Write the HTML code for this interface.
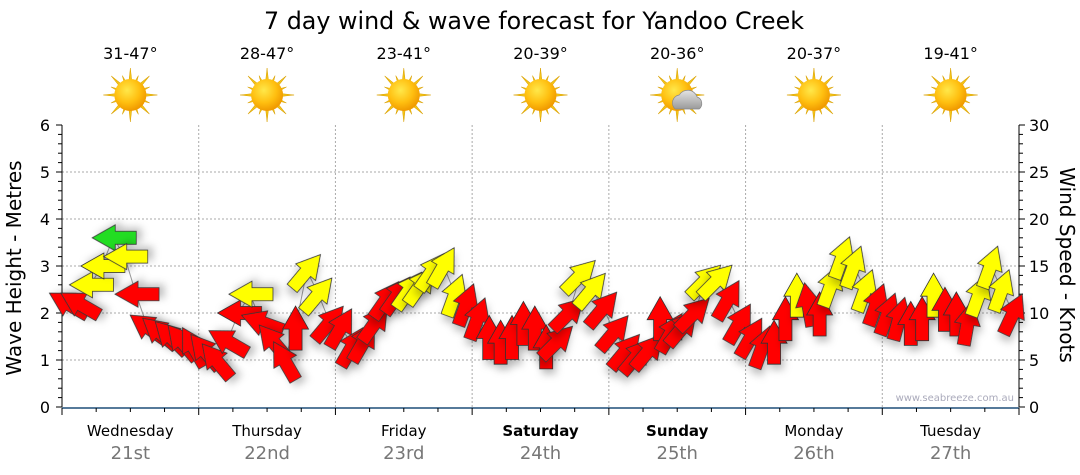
<!DOCTYPE html>
<html><head><meta charset="utf-8"><style>
body{margin:0;background:#fff}
svg{display:block;font-family:"DejaVu Sans","Liberation Sans",sans-serif}
</style></head><body>
<svg id="chart" width="1080" height="475" viewBox="0 0 1080 475" xmlns="http://www.w3.org/2000/svg">
<defs>
<filter id="sh" x="-50%" y="-50%" width="200%" height="200%"><feDropShadow dx="3" dy="5" stdDeviation="4" flood-color="#000" flood-opacity="0.25"/></filter>
<radialGradient id="sunG" cx="40%" cy="35%" r="65%"><stop offset="0" stop-color="#ffe84a"/><stop offset="0.6" stop-color="#ffbf10"/><stop offset="1" stop-color="#f09a00"/></radialGradient>
<linearGradient id="cloudG" x1="0" y1="0" x2="0" y2="1"><stop offset="0" stop-color="#e4e4e4"/><stop offset="1" stop-color="#9a9a9a"/></linearGradient>
</defs>
<text x="534" y="29" text-anchor="middle" font-size="24" textLength="540" lengthAdjust="spacingAndGlyphs">7 day wind &amp; wave forecast for Yandoo Creek</text>
<g id="grid"></g><g id="axes"></g><g id="icons"></g><g id="marks"></g>
<text transform="translate(21,268) rotate(-90)" text-anchor="middle" font-size="20">Wave Height - Metres</text>
<text transform="translate(1060,265) rotate(90)" text-anchor="middle" font-size="20">Wind Speed - Knots</text>
<text x="1014" y="401" text-anchor="end" font-size="10" fill="#aab">www.seabreeze.com.au</text>
</svg>
<script>
const days=["Wednesday","Thursday","Friday","Saturday","Sunday","Monday","Tuesday"];
const dates=["21st","22nd","23rd","24th","25th","26th","27th"];
const temps=["31-47°","28-47°","23-41°","20-39°","20-36°","20-37°","19-41°"];
const cloudy=[0,0,0,0,1,0,0];
const waveTicks=[0,1,2,3,4,5,6];
const windTicks=[0,5,10,15,20,25,30];
// wind every 2 hours, 12 per day
const windSpeed=[11,11,13,15,18,16,12,8.5,8,7.5,7,6.5,
6,5,7,10,12,9,7,5,8.5,14.5,12,9,
8.5,6.5,7,9,11.5,12,12.5,13,14.5,15,12,11,
9.5,7.5,7,7.5,9,8.5,6.5,7,10,14,12.5,10.5,
8,6,5.5,6,9.5,8,8.5,10,13.5,13.5,11.5,9,
7.5,6.5,7,9.5,12,11,10,13,16,15,12.5,11,
10,9.5,9,9.5,12,10.5,10,9,12,15,12.5,10];
const windDir=[-60,-60,-90,-90,-90,-90,-90,-55,-50,-45,-40,-30,
-40,-40,-60,-90,-90,-70,-40,-30,0,40,40,40,
30,30,30,35,35,35,35,35,35,30,20,20,
20,0,0,0,0,0,0,45,45,45,40,40,
40,40,40,40,0,30,40,45,45,45,30,30,
30,20,0,0,0,-10,0,20,20,20,20,20,
20,15,0,0,0,0,0,10,20,20,20,25];
const windCol=["r","r","y","y","g","y","r","r","r","r","r","r",
"r","r","r","r","y","r","r","r","r","y","y","r",
"r","r","r","r","r","r","y","y","y","y","y","r",
"r","r","r","r","r","r","r","r","r","y","y","r",
"r","r","r","r","r","r","r","r","y","y","r","r",
"r","r","r","r","y","r","r","y","y","y","y","r",
"r","r","r","r","y","r","r","r","y","y","y","r"];
const NS="http://www.w3.org/2000/svg";
const X0=62,X1=1019,Y0=407,Y1=125,DW=(X1-X0)/7;
const xT=h=>X0+h*DW/24;
const yM=m=>Y0-(m/6)*(Y0-Y1);
const yK=k=>Y0-(k/30)*(Y0-Y1);
function mk(tag,attrs,parent,txt){const e=document.createElementNS(NS,tag);for(const k in attrs)e.setAttribute(k,attrs[k]);if(txt!=null)e.textContent=txt;parent.appendChild(e);return e;}
const grid=document.getElementById('grid'),axes=document.getElementById('axes'),icons=document.getElementById('icons'),marks=document.getElementById('marks');
waveTicks.forEach(m=>{
 if(m>0&&m<6){const l=mk('line',{x1:X0,x2:X1,y1:yM(m),y2:yM(m),stroke:'#aaa','stroke-dasharray':'2,2'},grid);
 
 }
 const t=mk('text',{x:X0-12,y:yM(m)+6,'text-anchor':'end','font-size':16},axes,String(m));
 
 
});
for(let d=1;d<7;d++){const l=mk('line',{x1:X0+d*DW,x2:X0+d*DW,y1:Y1,y2:Y0,stroke:'#aaa','stroke-dasharray':'2,2'},grid);
 
 }
mk('line',{x1:X0,x2:X0,y1:Y1,y2:Y0,stroke:'#000'},axes);
mk('line',{x1:X1,x2:X1,y1:Y1,y2:Y0,stroke:'#000'},axes);
for(let i=0;i<=30;i++){const y=Y0-i*(Y0-Y1)/30;
 mk('line',{x1:X0-(i%5==0?6:4),x2:X0,y1:y,y2:y,stroke:'#000'},axes);
 mk('line',{x1:X1,x2:X1+(i%5==0?6:4),y1:y,y2:y,stroke:'#000'},axes);}
windTicks.forEach(k=>{const t=mk('text',{x:X1+10,y:yK(k)+6,'font-size':16},axes,String(k));
 
 });
mk('line',{x1:X0,x2:X1,y1:Y0+1,y2:Y0+1,stroke:'#1f4e79','stroke-width':1.5},axes);
for(let h=0;h<=168;h+=6){mk('line',{x1:xT(h),x2:xT(h),y1:Y0+1,y2:Y0+(h%24==0?8:5),stroke:'#000'},axes);}
days.forEach((d,i)=>{const cx=X0+(i+0.5)*DW;
 const a=mk('text',{x:cx,y:436,'text-anchor':'middle','font-size':15,'font-weight':(i==3||i==4)?'bold':'normal'},axes,d);
 
 
 const b=mk('text',{x:cx,y:459,'text-anchor':'middle','font-size':18,fill:'#777'},axes,dates[i]);
 
 
 const t=mk('text',{x:cx,y:59,'text-anchor':'middle','font-size':16},icons,temps[i]);
 
 
 const g=mk('g',{transform:`translate(${cx},95)`},icons);
 
 
 for(let r=0;r<16;r++){const ang=r*22.5,L=r%2==0?27:21;
  mk('polygon',{points:`-3,0 3,0 0,-${L}`,fill:'#f5c518',stroke:'#d9a000','stroke-width':0.5,transform:`rotate(${ang})`},g);}
 mk('circle',{r:16,fill:'url(#sunG)'},g);
 if(cloudy[i]){mk('path',{d:'M-2,14 a8,8 0 0 1 4,-14 a10,10 0 0 1 18,2 a7,7 0 0 1 2,12 z',fill:'url(#cloudG)',stroke:'#888','stroke-width':0.7},g);}
});
let pts=windSpeed.map((s,i)=>xT(i*2+1)+','+yK(s)).join(' ');
mk('polyline',{points:pts,fill:'none',stroke:'#999','stroke-width':1},marks);
const cols={r:'#ff0000',y:'#ffff00',g:'#22dd22'};
windSpeed.forEach((s,i)=>{
 const x=xT(i*2+1),y=yK(s);
 const p=mk('polygon',{points:'-6.5,23 6.5,23 6.5,2 13,2 0,-21 -13,2 -6.5,2',fill:cols[windCol[i]],stroke:'#333','stroke-width':0.8,filter:'url(#sh)',transform:`translate(${x},${y}) rotate(${windDir[i]})`},marks);
 
 
});
</script>
</body></html>
